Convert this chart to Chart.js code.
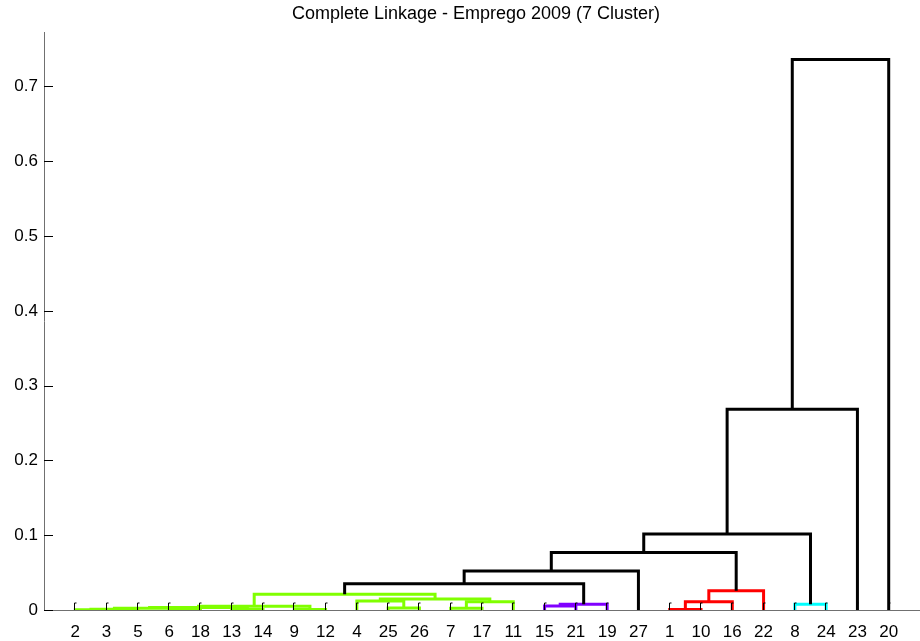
<!DOCTYPE html>
<html>
<head>
<meta charset="utf-8">
<script src="https://cdn.jsdelivr.net/npm/chart.js@4.4.1/dist/chart.umd.min.js"></script>
<style>
  html, body { margin: 0; padding: 0; background: #ffffff; }
  #wrap { width: 920px; height: 641px; }
</style>
</head>
<body>
<div id="wrap"><canvas id="dendro" width="920" height="641"></canvas></div>
<script>
// leaf labels, left to right as they appear on the x axis
const leafOrder = [2, 3, 5, 6, 18, 13, 14, 9, 12, 4, 25, 26, 7, 17, 11, 15, 21, 19, 27, 1, 10, 16, 22, 8, 24, 23, 20];

// linkage table: merge k creates node 28+k (leaves are 1..27)
const mergeA = [2, 13, 6, 9, 1, 28, 33, 7, 25, 34, 37, 15, 8, 39, 35, 32, 4, 44, 38, 43, 46, 48, 49, 50, 51, 52];
const mergeB = [3, 14, 18, 12, 10, 5, 30, 17, 26, 29, 31, 21, 24, 19, 11, 16, 36, 42, 45, 22, 41, 27, 47, 40, 23, 20];
const mergeHeight = [0.0004, 0.0006, 0.0007, 0.0008, 0.0008, 0.0011, 0.0022, 0.0023, 0.0027, 0.0035, 0.0050, 0.0055, 0.0076, 0.0078, 0.0110, 0.0110, 0.0120, 0.0147, 0.0211, 0.0258, 0.0350, 0.0520, 0.0770, 0.1015, 0.2685, 0.7360];
const mergeCluster = ['g', 'g', 'g', 'g', 'r', 'g', 'g', 'g', 'g', 'g', 'g', 'p', 'c', 'p', 'g', 'r', 'g', 'g', 'g', 'r', 'k', 'k', 'k', 'k', 'k', 'k'];

const yTicks = [0, 0.1, 0.2, 0.3, 0.4, 0.5, 0.6, 0.7];

// colours / styles
const clusterColors = { g: '#80ff00', r: '#ff0000', p: '#8000ff', c: '#00ffff', k: '#000000' };
const FONT = 'Liberation Sans, Arial, sans-serif';

const nLeaves = leafOrder.length;
const yMax = mergeHeight[mergeHeight.length - 1] * 1.05;

// position and height of every node
const nodeX = {};
const nodeH = {};
leafOrder.forEach((lab, i) => { nodeX[lab] = i + 1; nodeH[lab] = 0; });

const datasets = [];
mergeA.forEach((a, k) => {
    const b = mergeB[k];
    const h = mergeHeight[k];
    const id = nLeaves + 1 + k;
    nodeX[id] = (nodeX[a] + nodeX[b]) / 2;
    nodeH[id] = h;
    datasets.push({
        data: [
            { x: nodeX[a], y: nodeH[a] },
            { x: nodeX[a], y: h },
            { x: nodeX[b], y: h },
            { x: nodeX[b], y: nodeH[b] }
        ],
        borderColor: clusterColors[mergeCluster[k]],
        borderWidth: 3,
        pointRadius: 0,
        tension: 0,
        fill: false,
        borderCapStyle: 'butt',
        borderJoinStyle: 'miter'
    });
});
datasets.reverse(); // dataset 0 is drawn last

// tick marks inside the axes + title
const extras = {
    id: 'extras',
    afterDraw(chart) {
        const ctx = chart.ctx;
        const xs = chart.scales.x, ys = chart.scales.y;
        const area = chart.chartArea;
        ctx.save();
        ctx.strokeStyle = '#000000';
        ctx.lineWidth = 1;
        ctx.beginPath();
        yTicks.forEach(v => {
            const py = Math.round(ys.getPixelForValue(v)) + 0.5;
            ctx.moveTo(area.left, py);
            ctx.lineTo(area.left + 9, py);
        });
        for (let i = 1; i <= nLeaves; i++) {
            const px = Math.round(xs.getPixelForValue(i)) - 0.5;
            ctx.moveTo(px, area.bottom);
            ctx.lineTo(px, area.bottom - 7);
            ctx.lineTo(px + 2, area.bottom - 7);
        }
        ctx.stroke();
        ctx.fillStyle = '#000000';
        ctx.font = '18px ' + FONT;
        ctx.textAlign = 'center';
        ctx.textBaseline = 'middle';
        ctx.fillText('Complete Linkage - Emprego 2009 (7 Cluster)', 476, 14);
        ctx.restore();
    }
};

new Chart(document.getElementById('dendro'), {
    type: 'line',
    data: { datasets: datasets },
    plugins: [extras],
    options: {
        responsive: false,
        animation: false,
        layout: { padding: { top: 32, right: 0, left: 0, bottom: 0 } },
        plugins: {
            legend: { display: false },
            tooltip: { enabled: false },
            title: { display: false }
        },
        scales: {
            x: {
                type: 'linear',
                min: 0,
                max: nLeaves + 1,
                afterFit: s => { s.height = 31; s.paddingLeft = 0; s.paddingRight = 0; },
                border: { display: true, color: '#707070', width: 1 },
                grid: { display: false, drawTicks: false, tickLength: 0 },
                ticks: {
                    stepSize: 1,
                    autoSkip: false,
                    maxRotation: 0,
                    includeBounds: false,
                    padding: 12,
                    color: '#000000',
                    font: { family: FONT, size: 17 },
                    callback: v => (v >= 1 && v <= nLeaves) ? String(leafOrder[v - 1]) : ''
                }
            },
            y: {
                type: 'linear',
                min: 0,
                max: yMax,
                afterFit: s => { s.width = 44; },
                border: { display: true, color: '#707070', width: 1 },
                grid: { display: false, drawTicks: false, tickLength: 0 },
                afterBuildTicks: s => { s.ticks = yTicks.map(v => ({ value: v })); },
                ticks: {
                    padding: 6,
                    color: '#000000',
                    font: { family: FONT, size: 17 },
                    callback: v => String(Math.round(v * 10) / 10)
                }
            }
        }
    }
});
</script>
</body>
</html>
